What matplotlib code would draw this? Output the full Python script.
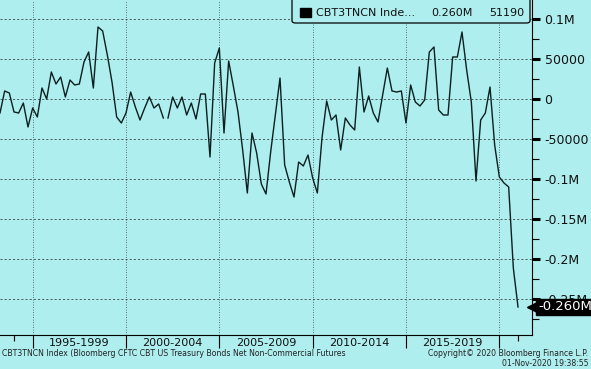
import numpy as np
import matplotlib.pyplot as plt
from matplotlib.patches import FancyBboxPatch, Rectangle

# quarterly net non-commercial positions (contracts)
start_year = 1993.25
values = [
    -17500, 10000, 7500, -16250, -17500, -5000, -35000, -11250, -22500, 13750,
    0, 33750, 18750, 27500, 2500, 23750, 17500, 18750, 46250, 58750,
    13750, 90000, 85000, 55000, 21250, -22500, -30000, -17500, 8750, -10000,
    -26250, -11250, 2500, -11250, -6250, -23750, -23750, 2500, -11250, 2500,
    -20000, -5000, -25000, 6250, 6250, -72500, 45000, 63750, -42500, 47500,
    16250, -16250, -63750, -117500, -42500, -67500, -106250, -118750, -66250, -20000,
    26250, -82500, -103750, -122500, -78750, -83750, -70000, -98750, -117500, -48750,
    -2500, -26250, -20000, -63750, -23750, -32500, -38750, 40000, -16250, 3750,
    -17500, -28750, 5000, 38750, 10000, 8750, 10000, -30000, 17500, -3750,
    -8750, -1250, 58750, 65000, -13750, -20000, -20000, 52500, 52500, 83750,
    36250, -3750, -102500, -26250, -17500, 15000, -57500, -97500, -105000, -110000,
    -211250, -260000,
]
gap_after = 35  # missing observation between these two points

period_labels = ["1995-1999", "2000-2004", "2005-2009", "2010-2014", "2015-2019"]
period_starts = [1995, 2000, 2005, 2010, 2015, 2020]
y_ticks = [100000, 50000, 0, -50000, -100000, -150000, -200000, -250000]
y_labels = ["0.1M", "50000", "0", "-50000", "-0.1M", "-0.15M", "-0.2M", "-0.25M"]
legend_texts = ["CBT3TNCN Inde...", "0.260M", "51190"]

bg = "#afeeee"
ink = "#111111"
years = start_year + 0.25 * np.arange(len(values))
vals = np.array(values, dtype=float)
years = np.insert(years, gap_after + 1, years[gap_after] + 0.125)
vals = np.insert(vals, gap_after + 1, np.nan)

W, H = 591, 369
fig = plt.figure(figsize=(W / 100, H / 100), dpi=100, facecolor=bg)
ax = fig.add_axes([0.0, 1 - 335 / H, 532 / W, 335 / H], facecolor=bg)

ax.plot(years, vals, color="#0b1f1f", lw=1.0)

ax.set_xlim(start_year, 2021.75)
ax.set_ylim(-295000, 123750)

# grid
for y in y_ticks:
    ax.axhline(y, color="#3c4a4a", lw=0.6, ls=(0, (2.5, 2.5)), zorder=0)
for x in period_starts:
    ax.axvline(x, color="#3c4a4a", lw=0.6, ls=(0, (1, 2)), zorder=0)

# spines
for s in ["top", "left"]:
    ax.spines[s].set_visible(False)
ax.spines["right"].set_color("black")
ax.spines["bottom"].set_color("black")

# x axis
ax.set_xticks(period_starts)
ax.set_xticklabels([])
ax.set_xticks([1994, 2021], minor=True)
ax.tick_params(axis="x", which="major", direction="out", length=9, width=0.8, color="black")
ax.tick_params(axis="x", which="minor", direction="out", length=4, width=0.8, color="black")
for lab, s in zip(period_labels, period_starts):
    ax.text(s + 2.5, -0.01, lab, transform=ax.get_xaxis_transform(),
            ha="center", va="top", fontsize=8, color=ink)

# y axis on right
ax.yaxis.tick_right()
ax.set_yticks(y_ticks)
ax.set_yticklabels(y_labels)
ax.set_yticks(np.arange(-275000, 125000, 50000), minor=True)
ax.tick_params(axis="y", which="major", direction="out", length=6, width=2.2,
               color="black", labelsize=9, pad=3, labelcolor=ink)
ax.tick_params(axis="y", which="minor", direction="out", length=5, width=0.8, color="black")

# legend box drawn by hand to match the terminal layout
fig.patches.append(FancyBboxPatch((292 / W, 1 - 23 / H), 238 / W, 26 / H,
                                  boxstyle="round,pad=0,rounding_size=0.006",
                                  transform=fig.transFigure, fc=bg, ec="black", lw=0.9,
                                  zorder=10))
fig.patches.append(Rectangle((300 / W, 1 - 17 / H), 11 / W, 9 / H,
                             transform=fig.transFigure, fc="black", ec="black", zorder=11))
for txt, xp in zip(legend_texts, [316, 431, 489]):
    fig.text(xp / W, 1 - 12.5 / H, txt, fontsize=8, ha="left", va="center",
             color=ink, zorder=12)

# last value tag
last = values[-1]
ax.plot([1.0], [last], marker="<", color="black", markersize=7,
        transform=ax.get_yaxis_transform(), clip_on=False, zorder=5)
ax.text(1.012, last, "-0.260M", transform=ax.get_yaxis_transform(), ha="left", va="center",
        fontsize=9.5, color="white", zorder=6, clip_on=False,
        bbox=dict(boxstyle="square,pad=0.15", fc="black", ec="black"))

# footer
fig.text(0.004, 1 - 354 / H, "CBT3TNCN Index (Bloomberg CFTC CBT US Treasury Bonds Net Non-Commercial Futures",
         fontsize=5.6, ha="left", va="center", color="#222222")
fig.text(0.995, 1 - 354 / H, "Copyright\u00a9 2020 Bloomberg Finance L.P.",
         fontsize=5.6, ha="right", va="center", color="#222222")
fig.text(0.995, 1 - 363.5 / H, "01-Nov-2020 19:38:55",
         fontsize=5.6, ha="right", va="center", color="#222222")

fig.savefig("out.png", dpi=100, facecolor=bg)
